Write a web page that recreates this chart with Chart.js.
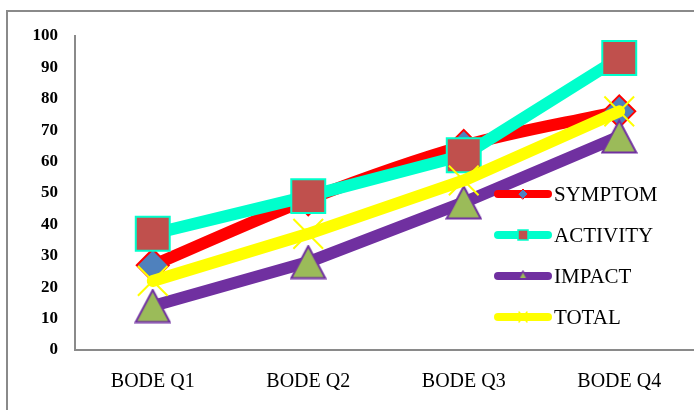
<!DOCTYPE html>
<html>
<head>
<meta charset="utf-8">
<script src="https://cdn.jsdelivr.net/npm/chart.js@4"></script>
<style>
  html, body { margin: 0; padding: 0; background: #fff; overflow: hidden; width: 694px; height: 410px; }
  #frame { position: absolute; left: 6px; top: 10px; width: 720px; height: 440px; border: 2px solid #8a8a8a; box-sizing: border-box; }
  #c { position: absolute; left: 0; top: 0; }
</style>
</head>
<body>
<div id="frame"></div>
<canvas id="c" width="700" height="410"></canvas>
<script>
// Quarterly BODE scores per domain
const categories = ['BODE Q1', 'BODE Q2', 'BODE Q3', 'BODE Q4'];
const symptom  = [27, 48, 65, 76];
const activity = [37, 49, 62, 93];
const impact   = [14, 28, 47, 68];
const total    = [22, 37, 54, 76];
const seriesNames = ['SYMPTOM', 'ACTIVITY', 'IMPACT', 'TOTAL'];
const yTicks = { min: 0, max: 100, step: 10 };

const SERIF = '"Liberation Serif", "Times New Roman", serif';

// Triangle marker centred in its own box
function makeTriangle(w, h, fill, stroke, lw) {
  const c = document.createElement('canvas');
  c.width = w; c.height = h;
  const g = c.getContext('2d');
  g.beginPath();
  g.moveTo(w / 2, lw / 2 + 0.5);
  g.lineTo(w - lw / 2 - 0.5, h - lw / 2 - 0.5);
  g.lineTo(lw / 2 + 0.5, h - lw / 2 - 0.5);
  g.closePath();
  g.fillStyle = fill; g.fill();
  g.lineWidth = lw; g.strokeStyle = stroke; g.lineJoin = 'miter'; g.stroke();
  return c;
}

const triBig = makeTriangle(37, 35, '#9BBB59', '#7030A0', 2);
const triSmall = makeTriangle(11, 10, '#9BBB59', '#7030A0', 1.5);

const styles = [
  { line: '#FF0000', fill: '#4F81BD', edge: '#FF0000', shape: 'rectRot', radius: 16, tension: 0.35 },
  { line: '#00FFCC', fill: '#C0504D', edge: '#00FFCC', shape: 'rect', radius: 24, tension: 0 },
  { line: '#7030A0', fill: '#9BBB59', edge: '#7030A0', shape: triBig, radius: 18, tension: 0 },
  { line: '#FFFF00', fill: '#FFFF00', edge: '#FFFF00', shape: 'crossRot', radius: 21, tension: 0 }
];
const values = [symptom, activity, impact, total];

const datasets = values.map((v, i) => ({
  label: seriesNames[i],
  data: v,
  borderColor: styles[i].line,
  borderWidth: 12,
  borderCapStyle: 'round',
  borderJoinStyle: 'round',
  tension: styles[i].tension,
  pointStyle: styles[i].shape,
  pointRadius: styles[i].radius,
  pointHoverRadius: styles[i].radius,
  pointBackgroundColor: styles[i].fill,
  pointBorderColor: styles[i].edge,
  pointBorderWidth: 2,
  order: values.length - i,
  clip: false,
  fill: false
}));

// Small legend glyphs drawn on top of the line sample
function legendMarker(ctx, i, x, y) {
  ctx.save();
  if (i === 0) {
    ctx.beginPath();
    ctx.moveTo(x - 5, y); ctx.lineTo(x, y - 5); ctx.lineTo(x + 5, y); ctx.lineTo(x, y + 5); ctx.closePath();
    ctx.fillStyle = '#4F81BD'; ctx.fill();
    ctx.lineWidth = 1; ctx.strokeStyle = '#FF0000'; ctx.stroke();
  } else if (i === 1) {
    ctx.fillStyle = '#C0504D';
    ctx.fillRect(x - 5, y - 5, 10, 10);
    ctx.lineWidth = 1.5; ctx.strokeStyle = '#00FFCC'; ctx.strokeRect(x - 5, y - 5, 10, 10);
  } else if (i === 2) {
    ctx.drawImage(triSmall, x - triSmall.width / 2, y - triSmall.height / 2 - 1);
  } else {
    ctx.strokeStyle = '#FFFF00'; ctx.lineWidth = 1.5;
    ctx.beginPath();
    ctx.moveTo(x - 4, y - 5); ctx.lineTo(x + 4, y + 5);
    ctx.moveTo(x + 4, y - 5); ctx.lineTo(x - 4, y + 5);
    ctx.stroke();
  }
  ctx.restore();
}

const sideLegend = {
  id: 'sideLegend',
  afterDatasetsDraw(chart) {
    const ctx = chart.ctx;
    const x0 = 498, x1 = 548, top = 194, gap = 41;
    seriesNames.forEach((name, i) => {
      const y = top + i * gap;
      ctx.save();
      ctx.strokeStyle = styles[i].line;
      ctx.lineWidth = 8;
      ctx.lineCap = 'round';
      ctx.beginPath(); ctx.moveTo(x0, y); ctx.lineTo(x1, y); ctx.stroke();
      legendMarker(ctx, i, (x0 + x1) / 2, y);
      ctx.fillStyle = '#000';
      ctx.font = '21px ' + SERIF;
      ctx.textBaseline = 'middle';
      ctx.textAlign = 'left';
      ctx.fillText(name, 554, y + 1);
      ctx.restore();
    });
  }
};

new Chart(document.getElementById('c'), {
  type: 'line',
  data: { labels: categories, datasets },
  plugins: [sideLegend],
  options: {
    responsive: false,
    devicePixelRatio: 1,
    animation: false,
    events: [],
    layout: { autoPadding: false, padding: { top: 36, right: 3, left: 0, bottom: 0 } },
    plugins: { legend: { display: false }, tooltip: { enabled: false }, title: { display: false } },
    scales: {
      x: {
        type: 'category',
        offset: true,
        grid: { display: false, drawTicks: false },
        border: { display: true, color: '#8a8a8a', width: 2 },
        ticks: { color: '#000', font: { family: SERIF, size: 20 }, padding: 20, maxRotation: 0 },
        afterFit(s) { s.height = 60; s.paddingLeft = 0; s.paddingRight = 0; }
      },
      y: {
        min: yTicks.min,
        max: yTicks.max,
        grid: { display: false, drawTicks: false },
        border: { display: true, color: '#8a8a8a', width: 2 },
        ticks: { stepSize: yTicks.step, color: '#000', font: { family: SERIF, size: 17, weight: 'bold' }, padding: 17 },
        afterFit(s) { s.width = 75; s.paddingTop = 0; s.paddingBottom = 0; }
      }
    }
  }
});
</script>
</body>
</html>
